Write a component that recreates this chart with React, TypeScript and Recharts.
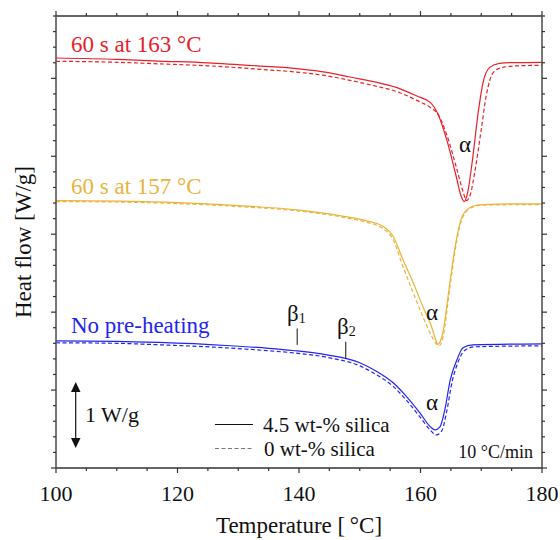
import { LineChart, Line, XAxis, YAxis, ReferenceLine } from 'recharts';

// heat flow, arbitrary offset units (1 unit = one major y tick)
const temps163Solid = [100, 110, 117, 125, 133.6, 140, 144.6, 148.4, 152.8, 156, 159.4, 161.6, 162.9, 164.3, 166, 166.6, 167.2, 167.8, 168.5, 169.5, 170.3, 171.4, 173, 175, 180];
const flow163Solid = [5.261, 5.244, 5.222, 5.199, 5.158, 5.122, 5.077, 5.017, 4.949, 4.884, 4.773, 4.692, 4.537, 4.216, 3.702, 3.509, 3.419, 3.548, 3.92, 4.563, 4.949, 5.141, 5.193, 5.202, 5.206];
const temps163Dashed = [100, 110, 117, 125, 133.6, 140, 144.6, 148.4, 152.8, 156, 159.4, 161.6, 162.9, 164.3, 166, 167, 167.6, 168.2, 169, 170, 170.8, 172, 173.5, 176, 180];
const flow163Dashed = [5.219, 5.206, 5.186, 5.161, 5.116, 5.077, 5.032, 4.974, 4.897, 4.833, 4.717, 4.627, 4.537, 4.28, 3.83, 3.548, 3.432, 3.509, 3.83, 4.344, 4.769, 5.077, 5.141, 5.161, 5.167];

const temps157Solid = [100, 110, 120, 130, 140, 148.4, 151, 153.8, 155.5, 157.1, 158.8, 160.4, 162, 162.5, 162.9, 163.3, 163.7, 164.9, 166, 167, 168.6, 170.3, 175, 180];
const flow157Solid = [3.432, 3.425, 3.406, 3.368, 3.31, 3.217, 3.175, 3.102, 2.973, 2.674, 2.378, 2.069, 1.774, 1.645, 1.587, 1.632, 1.748, 2.416, 2.969, 3.252, 3.359, 3.38, 3.389, 3.389];
const temps157Dashed = [100, 110, 120, 130, 140, 148.4, 151, 153.8, 155.5, 157, 158.6, 160.2, 161.8, 162.6, 163.1, 163.6, 164.9, 166, 167, 168.6, 170.3, 180];
const flow157Dashed = [3.419, 3.413, 3.393, 3.355, 3.297, 3.201, 3.155, 3.072, 2.931, 2.609, 2.288, 1.979, 1.697, 1.594, 1.568, 1.645, 2.352, 2.931, 3.226, 3.348, 3.374, 3.38];

const tempsNoneSolid = [100, 110, 117, 128, 135, 139, 144.6, 150, 152.8, 155.5, 157.7, 159.9, 161.6, 162.4, 163.2, 164, 164.9, 166, 167, 168.6, 180];
const flowNoneSolid = [1.632, 1.626, 1.611, 1.572, 1.536, 1.508, 1.452, 1.35, 1.238, 1.093, 0.916, 0.707, 0.531, 0.488, 0.527, 0.746, 1.131, 1.388, 1.542, 1.581, 1.594];
const tempsNoneDashed = [100, 110, 117, 128, 135, 139, 144.6, 150, 152.8, 155.5, 157.7, 159.9, 161.6, 162.6, 163.5, 164.3, 165.2, 166.2, 167.2, 168.8, 180];
const flowNoneDashed = [1.607, 1.6, 1.581, 1.542, 1.504, 1.478, 1.42, 1.311, 1.195, 1.048, 0.868, 0.656, 0.488, 0.424, 0.476, 0.72, 1.105, 1.362, 1.504, 1.555, 1.568];

const xTicks = Array.from({ length: 17 }, (_, i) => 100 + i * 5);
const yTicks = Array.from({ length: 30 }, (_, i) => Math.round(i * 2) / 10);

const RED = '#e8202a';
const ORANGE = '#e9b43c';
const BLUE = '#2424ee';
const AXIS = '#333';
const FONT = '"Liberation Serif", "DejaVu Serif", serif';

const toPoints = (t: number[], v: number[]) => t.map((x, i) => ({ t: x, hf: v[i] }));

const isMajorY = (v: number) => Math.abs(v - Math.round(v)) < 1e-6;

const BottomTick = (props: any) => {
  const { x, y, payload } = props;
  const major = payload.value % 20 === 0;
  return (
    <g>
      <line x1={x} x2={x} y1={y} y2={y + (major ? 5 : 3)} stroke={AXIS} strokeWidth={1.2} />
      {major && (
        <text x={x} y={y + 33} textAnchor="middle" fontSize={22} fontFamily={FONT} fill="#111">
          {payload.value}
        </text>
      )}
    </g>
  );
};

const TopTick = (props: any) => {
  const { x, y, payload } = props;
  const major = payload.value % 20 === 0;
  return <line x1={x} x2={x} y1={y} y2={y - (major ? 5 : 3)} stroke={AXIS} strokeWidth={1.2} />;
};

const LeftTick = (props: any) => {
  const { x, y, payload } = props;
  return <line x1={x} x2={x - (isMajorY(payload.value) ? 5 : 3)} y1={y} y2={y} stroke={AXIS} strokeWidth={1.2} />;
};

const RightTick = (props: any) => {
  const { x, y, payload } = props;
  return <line x1={x} x2={x + (isMajorY(payload.value) ? 5 : 3)} y1={y} y2={y} stroke={AXIS} strokeWidth={1.2} />;
};

const curve = (data: { t: number; hf: number }[], color: string, dashed: boolean, key: string) => (
  <Line
    key={key}
    xAxisId="bottom"
    yAxisId="left"
    data={data}
    dataKey="hf"
    type="monotone"
    stroke={color}
    strokeWidth={1.2}
    strokeDasharray={dashed ? '4 2.5' : undefined}
    dot={false}
    activeDot={false}
    isAnimationActive={false}
  />
);

export default function App() {
  return (
    <div style={{ position: 'absolute', left: 0, top: 0, width: 560, height: 540, background: '#fff' }}>
      <LineChart width={560} height={540} margin={{ top: 6, right: 8, bottom: 32, left: 16 }}>
        <XAxis
          xAxisId="bottom"
          type="number"
          dataKey="t"
          domain={[100, 180]}
          ticks={xTicks}
          interval={0}
          allowDataOverflow
          height={40}
          tickSize={0}
          tickMargin={0}
          tick={<BottomTick />}
          axisLine={{ stroke: AXIS, strokeWidth: 1.3 }}
        />
        <XAxis
          xAxisId="top"
          orientation="top"
          type="number"
          dataKey="t"
          domain={[100, 180]}
          ticks={xTicks}
          interval={0}
          allowDataOverflow
          height={10}
          tickSize={0}
          tickMargin={0}
          tick={<TopTick />}
          axisLine={{ stroke: AXIS, strokeWidth: 1.3 }}
        />
        <YAxis
          yAxisId="left"
          type="number"
          domain={[0, 5.8]}
          ticks={yTicks}
          interval={0}
          allowDataOverflow
          width={40}
          tickSize={0}
          tickMargin={0}
          tick={<LeftTick />}
          axisLine={{ stroke: '#555', strokeWidth: 1.6 }}
        />
        <YAxis
          yAxisId="right"
          orientation="right"
          type="number"
          domain={[0, 5.8]}
          ticks={yTicks}
          interval={0}
          allowDataOverflow
          width={10}
          tickSize={0}
          tickMargin={0}
          tick={<RightTick />}
          axisLine={{ stroke: '#555', strokeWidth: 1.6 }}
        />
        {curve(toPoints(temps163Dashed, flow163Dashed), RED, true, 'r-d')}
        {curve(toPoints(temps163Solid, flow163Solid), RED, false, 'r-s')}
        {curve(toPoints(temps157Dashed, flow157Dashed), ORANGE, true, 'o-d')}
        {curve(toPoints(temps157Solid, flow157Solid), ORANGE, false, 'o-s')}
        {curve(toPoints(tempsNoneDashed, flowNoneDashed), BLUE, true, 'b-d')}
        {curve(toPoints(tempsNoneSolid, flowNoneSolid), BLUE, false, 'b-s')}
        <ReferenceLine
          xAxisId="bottom"
          yAxisId="left"
          segment={[{ x: 139.7, y: 1.58 }, { x: 139.7, y: 1.79 }]}
          stroke="#111"
          strokeWidth={1}
        />
        <ReferenceLine
          xAxisId="bottom"
          yAxisId="left"
          segment={[{ x: 147.7, y: 1.41 }, { x: 147.7, y: 1.62 }]}
          stroke="#111"
          strokeWidth={1}
        />
      </LineChart>
      <svg
        width={560}
        height={540}
        style={{ position: 'absolute', left: 0, top: 0, pointerEvents: 'none' }}
        fontFamily={FONT}
      >
        <text x={71} y={52} fontSize={23} fill={RED}>60 s at 163 °C</text>
        <text x={71} y={194} fontSize={23} fill={ORANGE}>60 s at 157 °C</text>
        <text x={71} y={333} fontSize={23} fill={BLUE}>No pre-heating</text>

        <text x={459} y={152} fontSize={23} fill="#111">α</text>
        <text x={426} y={320} fontSize={23} fill="#111">α</text>
        <text x={426} y={410} fontSize={23} fill="#111">α</text>

        <text x={287} y={321} fontSize={23} fill="#111">β<tspan fontSize={14} dy={2}>1</tspan></text>
        <text x={337} y={334} fontSize={23} fill="#111">β<tspan fontSize={14} dy={2}>2</tspan></text>

        <line x1={75.7} x2={75.7} y1={390} y2={440} stroke="#111" strokeWidth={1.2} />
        <polygon points="71,392 80.5,392 75.7,382" fill="#111" />
        <polygon points="71,438 80.5,438 75.7,448" fill="#111" />
        <text x={85} y={422} fontSize={22} fill="#111">1 W/g</text>

        <line x1={215} x2={253} y1={424.5} y2={424.5} stroke="#111" strokeWidth={1.2} />
        <text x={263} y={432} fontSize={21} fill="#111">4.5 wt-% silica</text>
        <line x1={215} x2={253} y1={448.5} y2={448.5} stroke="#777" strokeWidth={1.2} strokeDasharray="4 2.5" />
        <text x={264} y={456} fontSize={21} fill="#111">0 wt-% silica</text>

        <text x={533} y={458} fontSize={18} fill="#111" textAnchor="end">10 °C/min</text>

        <text x={299} y={533} fontSize={23} fill="#111" textAnchor="middle">Temperature [{'\u2009'}°C]</text>
        <text
          x={0}
          y={0}
          fontSize={23}
          fill="#111"
          textAnchor="middle"
          transform="translate(31 242) rotate(-90)"
        >
          Heat flow [W/g]
        </text>
      </svg>
    </div>
  );
}
